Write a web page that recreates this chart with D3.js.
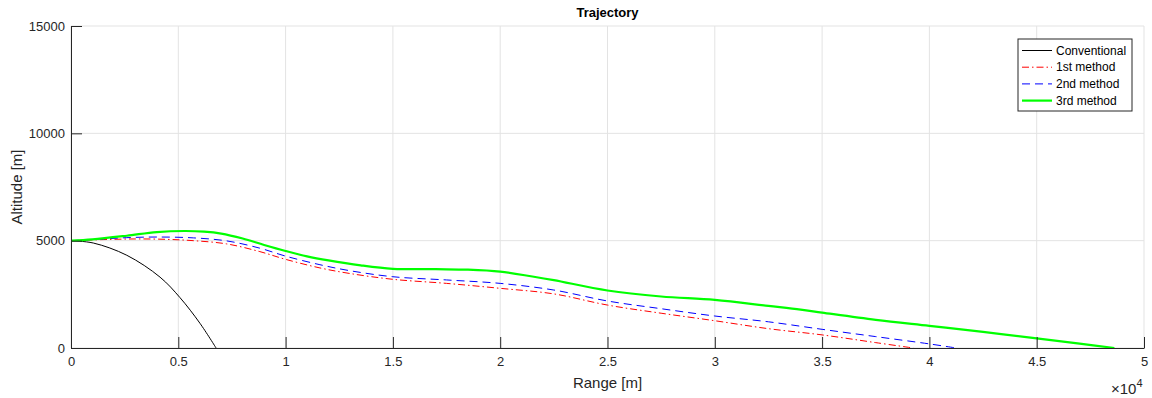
<!DOCTYPE html>
<html>
<head>
<meta charset="utf-8">
<script src="https://cdn.jsdelivr.net/npm/d3@7"></script>
<style>
  body { margin: 0; background: #fff; }
  svg { font-family: "Liberation Sans", Arial, sans-serif; }
</style>
</head>
<body>
<svg id="draw-here"></svg>
<script>
// values
const xTicks = [0, 5000, 10000, 15000, 20000, 25000, 30000, 35000, 40000, 45000, 50000];
const xTickLabels = ["0", "0.5", "1", "1.5", "2", "2.5", "3", "3.5", "4", "4.5", "5"];
const yTicks = [0, 5000, 10000, 15000];

const convRange = [0, 1040, 2600, 4150, 5080, 6010, 6760];
const convAlt = [5000, 4890, 4320, 3300, 2345, 1150, 0];

const m1Range = [0, 1500, 3000, 4500, 5700, 7250, 8800, 10000, 11600, 13000, 15000, 17500, 20000, 22500, 25000, 27500, 30000, 32500, 35000, 37500, 39250];
const m1Alt = [5000, 5050, 5080, 5060, 5000, 4850, 4490, 4130, 3730, 3470, 3200, 3010, 2780, 2520, 2000, 1620, 1270, 900, 610, 250, 0];

const m2Range = [0, 1500, 2600, 4000, 5700, 7250, 8800, 10000, 11600, 13000, 15000, 17500, 20000, 22500, 25000, 27500, 30000, 32500, 35000, 37500, 40000, 41250];
const m2Alt = [5000, 5080, 5140, 5170, 5130, 4990, 4650, 4280, 3880, 3600, 3320, 3170, 3010, 2700, 2190, 1830, 1490, 1220, 870, 530, 190, 0];

const m3Range = [0, 1000, 2600, 4000, 5300, 6200, 7000, 8000, 9000, 10000, 11000, 12000, 13500, 15000, 17000, 18500, 20000, 21500, 22500, 25000, 27500, 30000, 32500, 34000, 35000, 37500, 40000, 42500, 45000, 47000, 48620];
const m3Alt = [5000, 5060, 5230, 5400, 5450, 5420, 5330, 5100, 4800, 4520, 4270, 4080, 3850, 3690, 3670, 3650, 3560, 3330, 3160, 2680, 2400, 2240, 1960, 1790, 1650, 1310, 1030, 750, 450, 200, 0];

const seriesNames = ["Conventional", "1st method", "2nd method", "3rd method"];

const W = 1152, H = 398;
const plotLeft = 71, plotRight = 1144, plotTop = 26, plotBottom = 348;
const axisColor = "#262626";

const svg = d3.select("#draw-here").attr("width", W).attr("height", H);

const x = d3.scaleLinear().domain([0, 50000]).range([plotLeft, plotRight]);
const y = d3.scaleLinear().domain([0, 15000]).range([plotBottom, plotTop]);

// grid
const grid = svg.append("g");
grid.selectAll(".gx").data(xTicks).enter().append("line")
  .attr("x1", d => x(d)).attr("x2", d => x(d))
  .attr("y1", plotTop).attr("y2", plotBottom)
  .attr("stroke", "#e3e3e3").attr("stroke-width", 1);
grid.selectAll(".gy").data(yTicks).enter().append("line")
  .attr("x1", plotLeft).attr("x2", plotRight)
  .attr("y1", d => y(d)).attr("y2", d => y(d))
  .attr("stroke", "#e3e3e3").attr("stroke-width", 1);

// series
const styles = [
  { color: "#000000", width: 1, dash: null },
  { color: "#ff0000", width: 1, dash: "7,3,1.5,3" },
  { color: "#0000ff", width: 1, dash: "8,5" },
  { color: "#00ff00", width: 2.2, dash: null }
];
const series = [
  [convRange, convAlt],
  [m1Range, m1Alt],
  [m2Range, m2Alt],
  [m3Range, m3Alt]
];

const line = d3.line()
  .x(d => x(d[0]))
  .y(d => y(d[1]))
  .curve(d3.curveCatmullRom.alpha(0.5));

series.forEach((s, i) => {
  const pts = s[0].map((r, k) => [r, s[1][k]]);
  svg.append("path")
    .datum(pts)
    .attr("d", line)
    .attr("fill", "none")
    .attr("stroke", styles[i].color)
    .attr("stroke-width", styles[i].width)
    .attr("stroke-dasharray", styles[i].dash);
});

// axes
const xAxis = d3.axisBottom(x).tickValues(xTicks)
  .tickFormat((d, i) => xTickLabels[i])
  .tickSizeInner(-11).tickSizeOuter(0).tickPadding(9);
const gx = svg.append("g").attr("transform", `translate(0,${plotBottom})`).call(xAxis);

const yAxis = d3.axisLeft(y).tickValues(yTicks)
  .tickFormat(d3.format("d"))
  .tickSizeInner(-11).tickSizeOuter(0).tickPadding(6);
const gy = svg.append("g").attr("transform", `translate(${plotLeft},0)`).call(yAxis);

[gx, gy].forEach(g => {
  g.select(".domain").attr("stroke", axisColor);
  g.selectAll(".tick line").attr("stroke", axisColor);
  g.selectAll(".tick text").attr("fill", axisColor)
    .style("font-size", "13px").style("font-family", "Liberation Sans, Arial, sans-serif");
});

// labels
svg.append("text")
  .attr("x", (plotLeft + plotRight) / 2).attr("y", 17)
  .attr("text-anchor", "middle")
  .style("font-size", "13px").style("font-weight", "bold")
  .attr("fill", "#000")
  .text("Trajectory");

svg.append("text")
  .attr("x", (plotLeft + plotRight) / 2).attr("y", 388)
  .attr("text-anchor", "middle")
  .style("font-size", "15px")
  .attr("fill", axisColor)
  .text("Range [m]");

svg.append("text")
  .attr("transform", `translate(22,${(plotTop + plotBottom) / 2}) rotate(-90)`)
  .attr("text-anchor", "middle")
  .style("font-size", "15px")
  .attr("fill", axisColor)
  .text("Altitude [m]");

const exp = svg.append("text")
  .attr("x", 1111).attr("y", 394)
  .style("font-size", "15px")
  .attr("fill", axisColor);
exp.append("tspan").text("\u00d7");
exp.append("tspan").text("10");
exp.append("tspan").attr("dy", -7).style("font-size", "11px").text("4");

// legend
const legend = svg.append("g").attr("transform", "translate(1018,39)");
legend.append("rect")
  .attr("width", 114).attr("height", 72)
  .attr("fill", "#fff").attr("stroke", axisColor).attr("stroke-width", 1);
seriesNames.forEach((name, i) => {
  const ly = 11.5 + i * 16.7;
  legend.append("line")
    .attr("x1", 4).attr("x2", 34)
    .attr("y1", ly).attr("y2", ly)
    .attr("stroke", styles[i].color)
    .attr("stroke-width", styles[i].width)
    .attr("stroke-dasharray", styles[i].dash);
  legend.append("text")
    .attr("x", 38).attr("y", ly + 4)
    .style("font-size", "12px")
    .attr("fill", "#000")
    .text(name);
});
</script>
</body>
</html>
